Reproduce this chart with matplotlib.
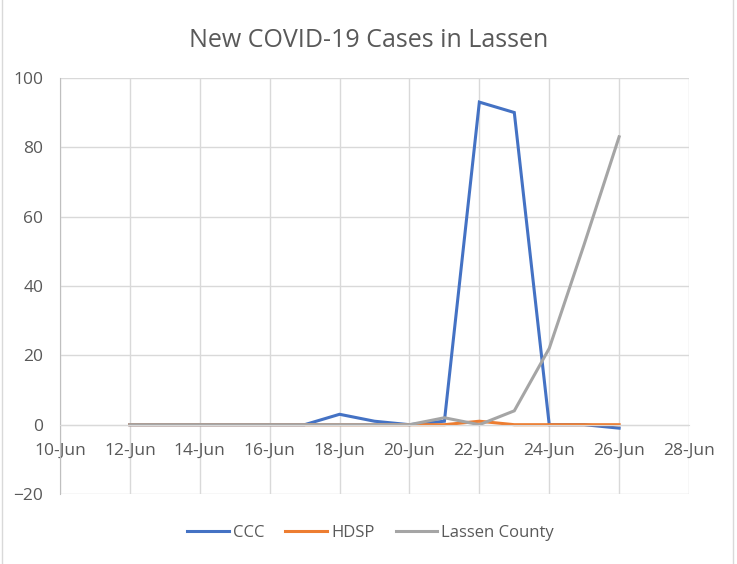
import numpy as np
import matplotlib
matplotlib.use("Agg")
import matplotlib.pyplot as plt
import matplotlib.dates as mdates
from matplotlib.patches import Rectangle

plt.rcParams['font.family'] = ['Open Sans', 'DejaVu Sans']

dates = np.arange(np.datetime64('2020-06-12'), np.datetime64('2020-06-27'))
ccc = [0, 0, 0, 0, 0, 0, 3, 1, 0, 1, 93, 90, 0, 0, -1]
hdsp = [0, 0, 0, 0, 0, 0, 0, 0, 0, 0, 1, 0, 0, 0, 0]
lassen = [0, 0, 0, 0, 0, 0, 0, 0, 0, 2, 0, 4, 22, 52, 83]
series_names = ["CCC", "HDSP", "Lassen County"]
colors = ["#4472C4", "#ED7D31", "#A5A5A5"]

text_color = "#595959"
grid_color = "#D9D9D9"

fig = plt.figure(figsize=(7.37, 5.64), dpi=100)
ax = fig.add_axes([0.0814, 0.124, 0.8535, 0.738])

x = dates.astype(object)
for vals, name, c in zip([ccc, hdsp, lassen], series_names, colors):
    ax.plot(x, vals, color=c, lw=2.2, label=name, solid_joinstyle='miter')

ax.set_xlim(np.datetime64('2020-06-10').astype(object), np.datetime64('2020-06-28').astype(object))
ax.set_ylim(-20, 100)
ax.set_yticks(np.arange(-20, 101, 20))
ax.set_xticks([(np.datetime64('2020-06-10') + np.timedelta64(2 * i, 'D')).astype(object)
               for i in range(10)])
ax.xaxis.set_major_formatter(mdates.DateFormatter('%d-%b'))

ax.grid(True, color=grid_color, lw=1)
ax.set_axisbelow(True)
for s in ['top', 'right']:
    ax.spines[s].set_visible(False)
ax.spines['bottom'].set_position(('data', 0))
ax.spines['bottom'].set_color(grid_color)
ax.spines['left'].set_color("#BFBFBF")
ax.tick_params(length=0, labelsize=12.5, labelcolor=text_color)
ax.tick_params(axis='y', pad=12)
ax.tick_params(axis='x', pad=13)

fig.suptitle("New COVID-19 Cases in Lassen", x=0.5, y=0.95, fontsize=18,
             color=text_color)

ax.legend(loc='center', bbox_to_anchor=(0.503, 0.055), bbox_transform=fig.transFigure,
          ncol=3, frameon=False, fontsize=12, labelcolor=text_color,
          handlelength=2.5, handletextpad=0.25, columnspacing=1.25)

fig.patches.append(Rectangle((0.003, -0.01), 0.992, 1.02, transform=fig.transFigure,
                             fill=False, edgecolor=grid_color, lw=1))

fig.savefig("out.png", dpi=100)
